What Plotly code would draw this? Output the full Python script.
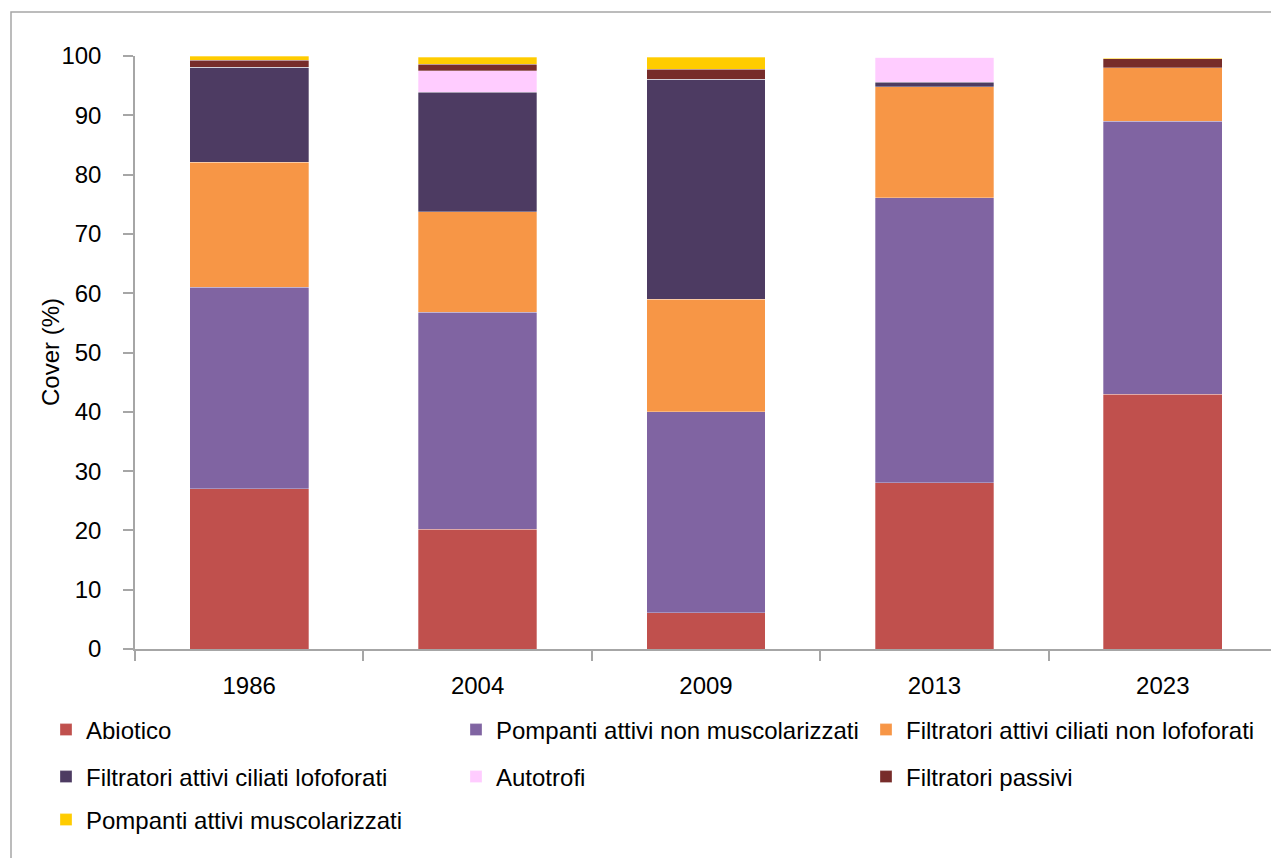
import plotly.graph_objects as go

years = ["1986", "2004", "2009", "2013", "2023"]
series_names = [
    "Abiotico",
    "Pompanti attivi non muscolarizzati",
    "Filtratori attivi ciliati non lofoforati",
    "Filtratori attivi ciliati lofoforati",
    "Autotrofi",
    "Filtratori passivi",
    "Pompanti attivi muscolarizzati",
]
abiotico = [27.0, 20.2, 6.1, 28.0, 43.0]
pompanti_non_musc = [34.0, 36.6, 33.9, 48.1, 46.0]
filtr_non_lofo = [21.1, 16.9, 19.0, 18.7, 9.0]
filtr_lofo = [16.0, 20.2, 37.1, 0.8, 0.0]
autotrofi = [0.0, 3.6, 0.0, 4.2, 0.0]
filtr_passivi = [1.2, 1.1, 1.7, 0.0, 1.5]
pompanti_musc = [0.7, 1.2, 2.0, 0.0, 0.1]

y_ticks = [0, 10, 20, 30, 40, 50, 60, 70, 80, 90, 100]

values = [abiotico, pompanti_non_musc, filtr_non_lofo, filtr_lofo,
          autotrofi, filtr_passivi, pompanti_musc]
colors = ["#C0504D", "#8064A2", "#F79646", "#4D3B62", "#FFCCFF", "#772C2A", "#FFCC00"]
legend_ids = ["legend", "legend", "legend", "legend2", "legend2", "legend2", "legend3"]

FONT = "Liberation Sans, Arial, sans-serif"
FS = 24

fig = go.Figure()
for name, vals, col, lg in zip(series_names, values, colors, legend_ids):
    fig.add_trace(go.Bar(
        x=years, y=vals, name=name,
        marker=dict(color=col, line=dict(width=0.6, color="rgba(255,255,255,0.5)")),
        legend=lg,
    ))

OFF = 8  # page body margin
W, H = 1271, 850
L, R, T, B = 127, 2, 48, 209
pw, ph = W - L - R, H - T - B


def px_x(p):
    return (p - OFF - L) / pw


def px_y(p):
    return (H - B - (p - OFF)) / ph


leg_common = dict(orientation="h", xanchor="left", yanchor="middle",
                  traceorder="normal",
                  font=dict(family=FONT, size=FS, color="black"),
                  entrywidth=365, entrywidthmode="pixels", itemwidth=30,
                  bgcolor="rgba(0,0,0,0)")

fig.update_layout(
    width=W, height=H,
    margin=dict(l=L, r=R, t=T, b=B),
    barmode="stack",
    bargap=0.48,
    plot_bgcolor="white",
    paper_bgcolor="white",
    font=dict(family=FONT, size=FS, color="black"),
    legend=dict(x=px_x(46), y=px_y(730), **leg_common),
    legend2=dict(x=px_x(46), y=px_y(777), **leg_common),
    legend3=dict(x=px_x(46), y=px_y(820), **leg_common),
    xaxis=dict(
        showline=True, linecolor="#A6A6A6", linewidth=1.5,
        ticks="outside", tickson="boundaries", ticklen=10, tickcolor="#A6A6A6",
        tickwidth=1.5, showgrid=False, ticklabelstandoff=14,
        tickfont=dict(family=FONT, size=FS, color="black"),
    ),
    yaxis=dict(
        range=[0, 100], tickvals=y_ticks,
        showline=True, linecolor="#A6A6A6", linewidth=1.5,
        ticks="outside", ticklen=10, tickcolor="#A6A6A6", tickwidth=1.5,
        showgrid=False, zeroline=False, ticklabelstandoff=17,
        tickfont=dict(family=FONT, size=FS, color="black"),
    ),
    annotations=[dict(text="Cover (%)", xref="paper", yref="paper",
                      x=px_x(50), y=px_y(352), xanchor="center", yanchor="middle",
                      textangle=-90, showarrow=False,
                      font=dict(family=FONT, size=FS, color="black"))],
    shapes=[dict(type="rect", xref="paper", yref="paper",
                 x0=px_x(11), x1=px_x(1300), y0=px_y(880), y1=px_y(12),
                 line=dict(color="#A6A6A6", width=1.5), fillcolor="rgba(0,0,0,0)",
                 layer="below")],
)

fig.write_html("out.html")
